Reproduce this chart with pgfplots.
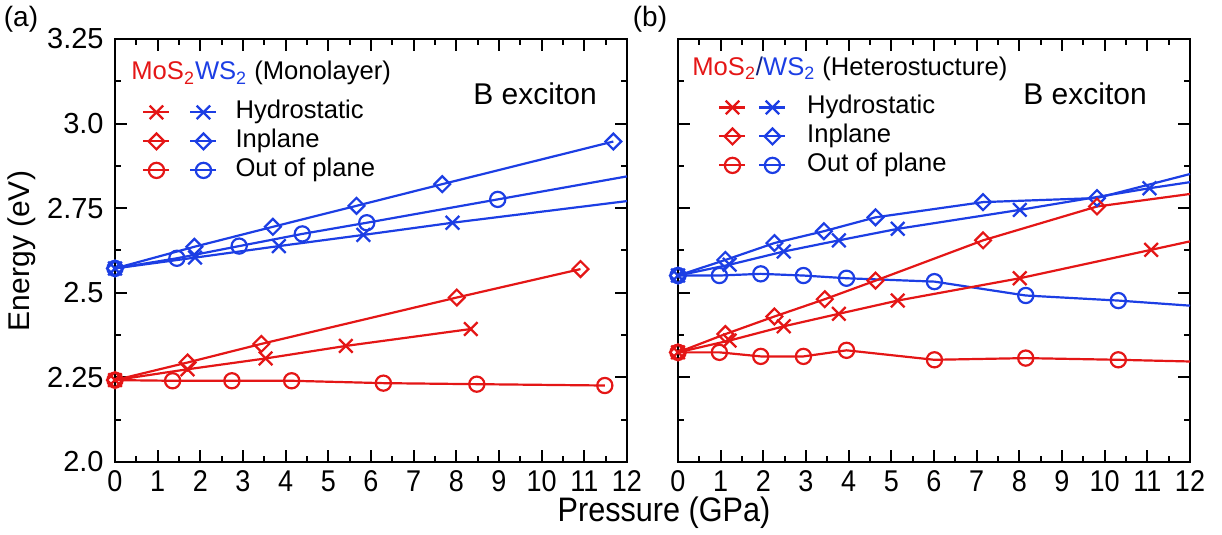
\documentclass[border=0pt]{standalone}
\usepackage{fontspec}
\setmainfont{Liberation Sans}
\usepackage{graphicx}
\usepackage{pgfplots}
\pgfplotsset{compat=1.18}
\definecolor{cr}{RGB}{228,22,22}
\definecolor{cb}{RGB}{28,62,228}
\newcommand\sx[1]{\mbox{\fontsize{15}{15}\selectfont\scalebox{0.9}[1]{#1}}}
\newcommand\sy[1]{\mbox{\fontsize{14.5}{14.5}\selectfont #1}}
\def\RB{23.5pt}
\tikzset{
  mx/.style={mark=x, mark size=4.8pt, mark options={solid, line width=1.15pt}},
  md/.style={mark=square, mark size=2.8pt, mark options={solid, rotate=45, line width=1.1pt}},
  mo/.style={mark=o, mark size=3.8pt, mark options={solid, line width=1.1pt}},
}
\newcommand\legimg[1]{%
  \draw[cr,line width=1.1pt] (0pt,0pt) -- (13pt,0pt);
  \draw[cr,line width=1.1pt,#1] plot coordinates {(6.5pt,0pt)};
  \draw[cb,line width=1.1pt] (\RB,0pt) -- (\RB+13pt,0pt);
  \draw[cb,line width=1.1pt,#1] plot coordinates {(\RB+6.5pt,0pt)};
}
\pgfplotsset{
  panel/.style={
    scale only axis, width=256pt, height=211.5pt,
    xmin=0, xmax=12, ymin=2, ymax=3.25, clip=false,
    /pgf/number format/assume math mode=true,
    xtick={0,1,2,3,4,5,6,7,8,9,10,11,12}, minor x tick num=1,
    ytick={2,2.25,2.5,2.75,3,3.25}, minor y tick num=1,
    tick align=inside, major tick length=6pt, minor tick length=3pt,
    axis line style={line width=1.1pt},
    every tick/.append style={line width=1pt, black},
    xticklabels={\sx{0},\sx{1},\sx{2},\sx{3},\sx{4},\sx{5},\sx{6},\sx{7},\sx{8},\sx{9},\sx{10},\sx{11},\sx{12}},
    xticklabel style={inner sep=0pt, anchor=north},
    xticklabel shift=4pt,
    yticklabel style={inner sep=0pt, anchor=east},
    yticklabel shift=5.5pt,
    every axis plot/.append style={line width=1.1pt},
    legend cell align=left,
    legend style={anchor=north west, draw=none, fill=none, inner sep=0pt,
      row sep=2.5pt, font=\fontsize{12.8}{13}\selectfont,
      nodes={inner sep=0pt, text height=9.2pt, text depth=2.8pt}},
  },
  legX/.style={legend image code/.code={\legimg{mx}}},
  legD/.style={legend image code/.code={\legimg{md}}},
  legO/.style={legend image code/.code={\legimg{mo}}},
}
\begin{document}
\begin{tikzpicture}
% ---------------- (a) Monolayer ----------------
\begin{axis}[panel, at={(0pt,0pt)}, anchor=south west,
  yticklabels={\sy{2.0},\sy{2.25},\sy{2.5},\sy{2.75},\sy{3.0},\sy{3.25}},
  legend style={at={(0.0527,0.8558)}, column sep=9pt}]
\addplot[cb, mx, mark indices={1,2,3,4,5}, legX] coordinates {(0,2.572) (1.875,2.604) (3.84,2.638) (5.82,2.671) (7.91,2.707) (12,2.771)};
\addlegendentry{Hydrostatic}
\addplot[cb, md, legD] coordinates {(0,2.572) (1.86,2.636) (3.70,2.695) (5.66,2.757) (7.67,2.821) (11.68,2.947)};
\addlegendentry{Inplane}
\addplot[cb, mo, mark indices={1,2,3,4,5,6}, legO] coordinates {(0,2.572) (1.45,2.602) (2.91,2.638) (4.39,2.674) (5.90,2.707) (8.97,2.776) (12,2.844)};
\addlegendentry{Out of plane}
\addplot[cr, mx, forget plot] coordinates {(0,2.242) (1.70,2.274) (3.53,2.306) (5.41,2.343) (8.34,2.393)};
\addplot[cr, md, forget plot] coordinates {(0,2.242) (1.70,2.294) (3.43,2.349) (8.01,2.486) (10.91,2.570)};
\addplot[cr, mo, forget plot] coordinates {(0,2.242) (1.35,2.240) (2.74,2.240) (4.14,2.240) (6.29,2.233) (8.48,2.230) (11.48,2.226)};
\node[anchor=base west, inner sep=0pt, font=\fontsize{12.8}{13}\selectfont] at (axis description cs:0.03125,0.9031)
  {\textcolor{cr}{MoS\textsubscript{2}}\textcolor{cb}{WS\textsubscript{2}} (Monolayer)};
\node[anchor=base west, inner sep=0pt, font=\fontsize{15}{15}\selectfont] at (axis description cs:0.6992,0.8440) {B exciton};
\end{axis}
% ---------------- (b) Heterostructure ----------------
\def\RB{20pt}
\begin{axis}[panel, at={(281.5pt,0pt)}, anchor=south west,
  yticklabels={},
  legend style={at={(0.0781,0.8676)}, column sep=10.3pt}]
\addplot[cb, mx, mark indices={1,2,3,4,5,6,7}, legX] coordinates {(0,2.551) (1.21,2.583) (2.48,2.622) (3.77,2.655) (5.15,2.689) (8.01,2.745) (11.05,2.809) (12,2.827)};
\addlegendentry{Hydrostatic}
\addplot[cb, md, mark indices={1,2,3,4,5,6,7}, legD] coordinates {(0,2.551) (1.11,2.597) (2.26,2.647) (3.42,2.682) (4.63,2.723) (7.15,2.768) (9.82,2.780) (12,2.851)};
\addlegendentry{Inplane}
\addplot[cb, mo, mark indices={1,2,3,4,5,6,7,8}, legO] coordinates {(0,2.551) (0.97,2.551) (1.94,2.556) (2.94,2.551) (3.95,2.543) (6.01,2.533) (8.15,2.492) (10.32,2.477) (12,2.462)};
\addlegendentry{Out of plane}
\addplot[cr, mx, mark indices={1,2,3,4,5,6,7}, forget plot] coordinates {(0,2.324) (1.21,2.359) (2.48,2.401) (3.77,2.438) (5.15,2.477) (8.01,2.543) (11.09,2.627) (12,2.652)};
\addplot[cr, md, mark indices={1,2,3,4,5,6,7}, forget plot] coordinates {(0,2.324) (1.11,2.378) (2.26,2.430) (3.44,2.481) (4.63,2.536) (7.15,2.655) (9.82,2.755) (12,2.792)};
\addplot[cr, mo, mark indices={1,2,3,4,5,6,7,8}, forget plot] coordinates {(0,2.324) (0.97,2.324) (1.94,2.312) (2.94,2.312) (3.95,2.330) (6.01,2.302) (8.15,2.307) (10.32,2.302) (12,2.297)};
\node[anchor=base west, inner sep=0pt, font=\fontsize{12.8}{13}\selectfont] at (axis description cs:0.0273,0.9135)
  {\textcolor{cr}{MoS\textsubscript{2}}\textcolor{cb!55!black}{/}\textcolor{cb}{WS\textsubscript{2}} (Heterostucture)};
\node[anchor=base west, inner sep=0pt, font=\fontsize{15}{15}\selectfont] at (axis description cs:0.6738,0.8463) {B exciton};
\end{axis}
% labels
\node[rotate=90, inner sep=0pt, font=\fontsize{15}{15}\selectfont] at (-46.5pt,105.5pt) {Energy (eV)};
\node[anchor=base, inner sep=0pt, font=\fontsize{17}{17}\selectfont] at (274.5pt,-29.85pt) {\scalebox{0.9}[1]{Pressure (GPa)}};
\node[inner sep=0pt, font=\fontsize{14}{14}\selectfont] at (-47pt,221.5pt) {(a)};
\node[inner sep=0pt, font=\fontsize{14}{14}\selectfont] at (267.5pt,221.5pt) {(b)};
\pgfresetboundingbox
\path[use as bounding box] (-57.5pt,-36.5pt) rectangle (553.5pt,231pt);
\end{tikzpicture}
\end{document}
